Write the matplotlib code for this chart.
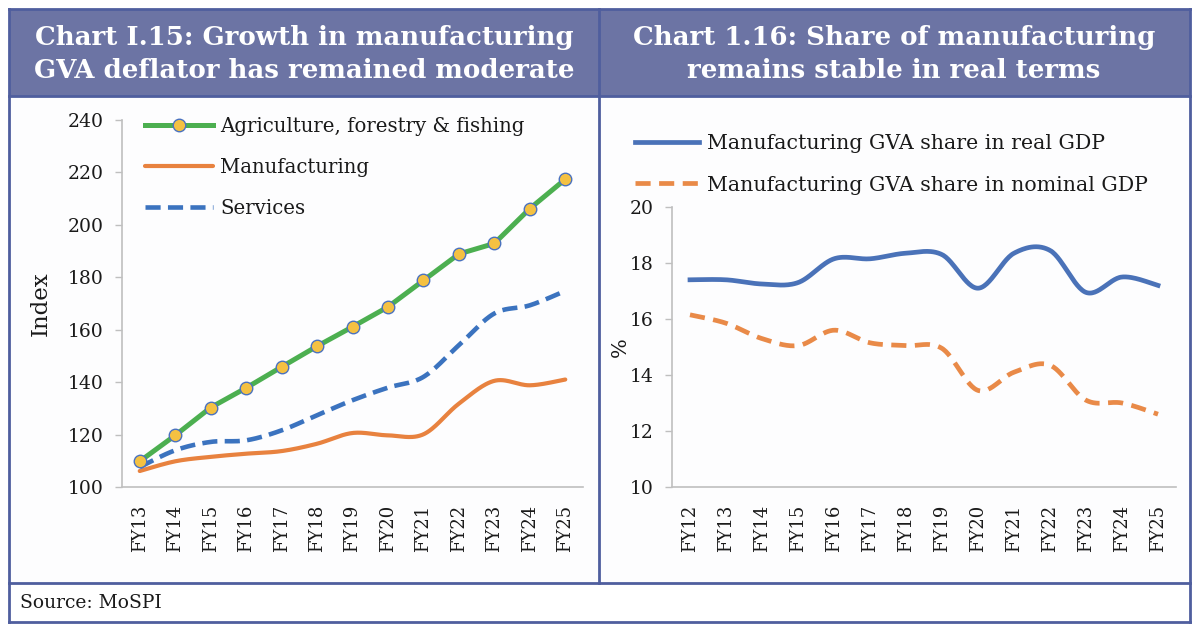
import numpy as np
import matplotlib
matplotlib.use("Agg")
import matplotlib.pyplot as plt
from matplotlib.patches import Rectangle
from matplotlib.lines import Line2D

# ---------------- data ----------------
left_years = ["FY13", "FY14", "FY15", "FY16", "FY17", "FY18", "FY19",
              "FY20", "FY21", "FY22", "FY23", "FY24", "FY25"]
agri = [109.8, 119.7, 130.3, 137.8, 145.8, 153.7, 161.1, 168.7, 178.8, 188.9, 192.9, 206.2, 217.4]
manuf = [106.1, 109.8, 111.5, 112.7, 113.7, 116.5, 120.6, 119.7, 120.1, 131.8, 140.5, 138.8, 141.0]
services = [107.6, 114.0, 117.2, 117.8, 121.6, 127.4, 133.1, 137.9, 142.0, 154.1, 166.2, 169.3, 174.8]

right_years = ["FY12", "FY13", "FY14", "FY15", "FY16", "FY17", "FY18", "FY19",
               "FY20", "FY21", "FY22", "FY23", "FY24", "FY25"]
real_share = [17.4, 17.4, 17.25, 17.3, 18.15, 18.15, 18.35, 18.3, 17.1, 18.35, 18.45, 16.95, 17.5, 17.2]
nominal_share = [16.15, 15.85, 15.3, 15.05, 15.6, 15.15, 15.05, 14.95, 13.45, 14.1, 14.35, 13.1, 13.0, 12.6]

left_title = "Chart I.15: Growth in manufacturing\nGVA deflator has remained moderate"
right_title = "Chart 1.16: Share of manufacturing\nremains stable in real terms"
source_text = "Source: MoSPI"

left_yticks = [100, 120, 140, 160, 180, 200, 220, 240]
right_yticks = [10, 12, 14, 16, 18, 20]

# ---------------- helpers ----------------
def smooth(vals, n=30):
    """Excel-like smoothed line (cubic Bezier / Catmull-Rom through points)."""
    x = np.arange(len(vals), dtype=float)
    y = np.asarray(vals, dtype=float)
    P = np.column_stack([x, y])
    Pp = np.vstack([P[0], P, P[-1]])
    out = [P[0]]
    t = np.linspace(0, 1, n)[1:, None]
    for i in range(len(P) - 1):
        p0, p1, p2, p3 = Pp[i], Pp[i + 1], Pp[i + 2], Pp[i + 3]
        b0 = p1
        b1 = p1 + (p2 - p0) / 6.0
        b2 = p2 - (p3 - p1) / 6.0
        b3 = p2
        seg = ((1 - t) ** 3) * b0 + 3 * ((1 - t) ** 2) * t * b1 + 3 * (1 - t) * t ** 2 * b2 + t ** 3 * b3
        out.extend(seg)
    out = np.array(out)
    return out[:, 0], out[:, 1]

W, H = 1200, 633
fig = plt.figure(figsize=(W / 100, H / 100), dpi=100)
fig.patch.set_facecolor("white")

def fx(px):
    return px / W

def fy(py):
    return 1 - py / H

SERIF = ["DejaVu Serif"]
title_fill = "#6c74a4"
border = "#4f5e9e"
axis_gray = "#bfbfbf"
text_col = "#1a1a1a"

# ---------------- frame ----------------
for x0, x1 in [(9, 599), (599, 1190)]:
    fig.patches.append(Rectangle((fx(x0), fy(96)), fx(x1) - fx(x0), fy(9) - fy(96),
                                 transform=fig.transFigure, facecolor=title_fill,
                                 edgecolor="none", zorder=-2))
fig.patches.append(Rectangle((fx(9), fy(583)), fx(1190) - fx(9), fy(96) - fy(583),
                             transform=fig.transFigure, facecolor="#fdfdfe",
                             edgecolor="none", zorder=-2))

def fline(x0, y0, x1, y1, lw=2.0):
    fig.add_artist(Line2D([fx(x0), fx(x1)], [fy(y0), fy(y1)], transform=fig.transFigure,
                          color=border, lw=lw, zorder=5, solid_capstyle="projecting"))

fline(9, 9, 1190, 9)
fline(9, 9, 9, 622)
fline(1190, 9, 1190, 622)
fline(9, 622, 1190, 622)
fline(9, 96, 1190, 96)
fline(9, 583, 1190, 583)
fline(599, 9, 599, 583)

fig.text(fx(304), fy(54), left_title, ha="center", va="center", color="white",
         fontsize=18.7, fontweight="bold", family=SERIF, linespacing=1.4)
fig.text(fx(894), fy(54), right_title, ha="center", va="center", color="white",
         fontsize=18.7, fontweight="bold", family=SERIF, linespacing=1.4)
fig.text(fx(20), fy(603), source_text, ha="left", va="center", color=text_col,
         fontsize=13.5, family=SERIF)

# ---------------- left chart ----------------
axL = fig.add_axes([fx(122), fy(487), fx(583) - fx(122), fy(120) - fy(487)])
axL.set_facecolor("none")
xl = np.arange(len(left_years))
axL.plot(xl, agri, color="#4caf50", lw=3.6, marker="o", markersize=9,
         markerfacecolor="#f4c142", markeredgecolor="#4a72c0", markeredgewidth=1.0,
         label="Agriculture, forestry & fishing", zorder=4)
sx, sy = smooth(manuf)
axL.plot(sx, sy, color="#e8823f", lw=3.0, label="Manufacturing", zorder=3, solid_capstyle="round")
sx, sy = smooth(services)
ln, = axL.plot(sx, sy, color="#3b73bf", lw=3.3, label="Services", zorder=3)
ln.set_dashes([3.3, 1.6])
axL.set_xlim(-0.5, 12.5)
axL.set_ylim(100, 240)
axL.set_yticks(left_yticks)
axL.set_xticks(xl)
axL.set_xticklabels(left_years, rotation=90, family=SERIF, fontsize=13, color=text_col)
axL.tick_params(axis="x", length=0, pad=13)
axL.tick_params(axis="y", length=5, color=axis_gray, width=1, pad=8, labelsize=13.5,
                labelcolor=text_col)
for lab in axL.get_yticklabels():
    lab.set_family(SERIF)
for s in ["top", "right"]:
    axL.spines[s].set_visible(False)
for s in ["left", "bottom"]:
    axL.spines[s].set_color(axis_gray)
    axL.spines[s].set_linewidth(1.2)
axL.set_ylabel("Index", family=SERIF, fontsize=16.5, labelpad=12, color=text_col)
axL.legend(loc="upper left", bbox_to_anchor=(fx(145), fy(117)), bbox_transform=fig.transFigure,
           frameon=False, prop={"family": SERIF, "size": 14.2}, handlelength=3.45,
           handletextpad=0.35, labelspacing=1.12, borderpad=0, borderaxespad=0,
           labelcolor=text_col)

# ---------------- right chart ----------------
axR = fig.add_axes([fx(672), fy(487), fx(1176) - fx(672), fy(207) - fy(487)])
axR.set_facecolor("none")
xr = np.arange(len(right_years))
sx, sy = smooth(real_share)
axR.plot(sx, sy, color="#4a72b8", lw=3.4, label="Manufacturing GVA share in real GDP", zorder=3)
sx, sy = smooth(nominal_share)
ln2, = axR.plot(sx, sy, color="#e98a48", lw=3.4, label="Manufacturing GVA share in nominal GDP", zorder=3)
ln2.set_dashes([3.2, 1.8])
axR.set_xlim(-0.5, 13.5)
axR.set_ylim(10, 20)
axR.set_yticks(right_yticks)
axR.set_xticks(xr)
axR.set_xticklabels(right_years, rotation=90, family=SERIF, fontsize=13, color=text_col)
axR.tick_params(axis="x", length=0, pad=13)
axR.tick_params(axis="y", length=5, color=axis_gray, width=1, pad=8, labelsize=13.5,
                labelcolor=text_col)
for lab in axR.get_yticklabels():
    lab.set_family(SERIF)
for s in ["top", "right"]:
    axR.spines[s].set_visible(False)
for s in ["left", "bottom"]:
    axR.spines[s].set_color(axis_gray)
    axR.spines[s].set_linewidth(1.2)
axR.set_ylabel("%", family=SERIF, fontsize=15, labelpad=0, color=text_col)
axR.legend(loc="upper left", bbox_to_anchor=(fx(635), fy(134)), bbox_transform=fig.transFigure,
           frameon=False, prop={"family": SERIF, "size": 14.8}, handlelength=3.1,
           handletextpad=0.4, labelspacing=1.1, borderpad=0, borderaxespad=0,
           labelcolor=text_col)

fig.savefig("out.png", dpi=100)
